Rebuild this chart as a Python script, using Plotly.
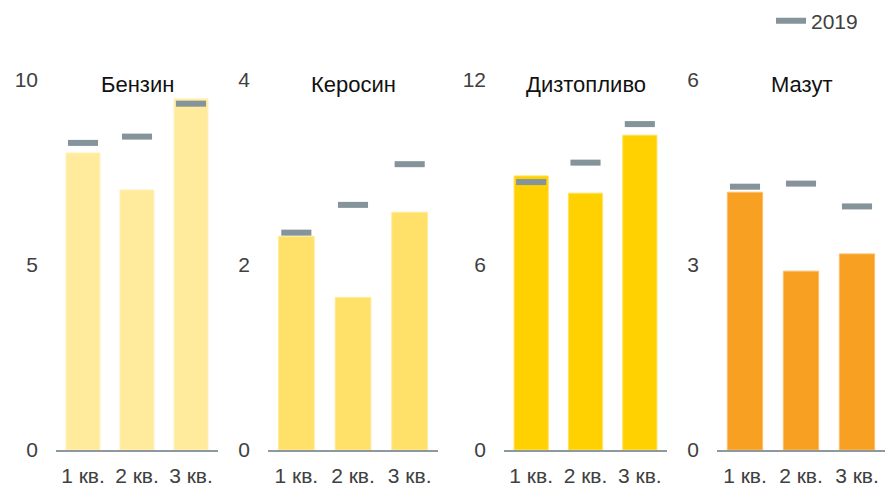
import plotly.graph_objects as go

# Quarterly data per fuel type (current year bars, 2019 reference dashes)
quarters = ["1 кв.", "2 кв.", "3 кв."]
fuels = ["Бензин", "Керосин", "Дизтопливо", "Мазут"]

benzin = [8.03, 7.03, 9.49]
kerosin = [2.31, 1.65, 2.57]
diesel = [8.89, 8.33, 10.21]
mazut = [4.18, 2.90, 3.18]

benzin_2019 = [8.30, 8.47, 9.36]
kerosin_2019 = [2.35, 2.65, 3.09]
diesel_2019 = [8.69, 9.32, 10.57]
mazut_2019 = [4.27, 4.32, 3.95]

axis_max = [10, 4, 12, 6]
axis_ticks = [[0, 5, 10], [0, 2, 4], [0, 6, 12], [0, 3, 6]]

current = [benzin, kerosin, diesel, mazut]
previous = [benzin_2019, kerosin_2019, diesel_2019, mazut_2019]

bar_colors = ["#FFEB9B", "#FFE16A", "#FFD100", "#F8A021"]
bar_edges = ["#FFF2C0", "#FFEA99", "#FFE266", "#FBBE6A"]
dash_color = "#85939A"
axis_color = "#8D989F"
text_color = "#404040"
FONT = "Liberation Sans, Arial, sans-serif"

W, H = 885, 487
x_domains_px = [(56, 218), (268, 438), (504, 667), (717, 885)]
y_domain = [37 / H, 407 / H]

fig = go.Figure()
layout = {}

for i in range(4):
    n = "" if i == 0 else str(i + 1)
    xa, ya = "x" + n, "y" + n
    fig.add_trace(go.Bar(
        x=quarters, y=current[i], xaxis=xa, yaxis=ya,
        marker=dict(color=bar_colors[i], line=dict(color=bar_edges[i], width=1)),
        width=0.63, showlegend=False, hoverinfo="x+y",
    ))
    fig.add_trace(go.Scatter(
        x=quarters, y=previous[i], xaxis=xa, yaxis=ya, mode="markers",
        marker=dict(symbol="line-ew", size=21.5, color=dash_color,
                    line=dict(color=dash_color, width=6)),
        showlegend=False, hoverinfo="x+y", cliponaxis=False,
    ))
    x0, x1 = x_domains_px[i]
    layout["xaxis" + n] = dict(
        domain=[x0 / W, min(x1 / W, 1.0)], anchor=ya, type="category",
        range=[-0.5, 2.5], showline=True, linecolor=axis_color, linewidth=1.5,
        showgrid=False, zeroline=False, ticks="", ticklabelstandoff=6,
        tickfont=dict(family=FONT, size=21, color=text_color),
    )
    layout["yaxis" + n] = dict(
        domain=y_domain, anchor=xa, range=[0, axis_max[i]],
        tickvals=axis_ticks[i], showgrid=False, zeroline=False, showline=False,
        ticks="", ticklabelstandoff=17,
        tickfont=dict(family=FONT, size=21, color=text_color),
    )
    fig.add_annotation(
        text=fuels[i], xref="paper", yref="paper",
        x=(x0 + min(x1, W)) / 2 / W, y=(H - 85) / H,
        xanchor="center", yanchor="middle", showarrow=False,
        font=dict(family=FONT, size=22, color="#111111"),
    )

# Legend entry for the 2019 dashes
fig.add_trace(go.Scatter(
    x=[None], y=[None], mode="lines", name="2019",
    line=dict(color=dash_color, width=6), showlegend=True,
))

fig.update_layout(
    width=W, height=H,
    margin=dict(l=0, r=0, t=0, b=0, autoexpand=False),
    paper_bgcolor="white", plot_bgcolor="white",
    font=dict(family=FONT, size=21, color=text_color),
    showlegend=True,
    legend=dict(x=771 / W, y=(H - 21) / H, xanchor="left", yanchor="middle",
                font=dict(family=FONT, size=21, color=text_color),
                bgcolor="rgba(0,0,0,0)", borderwidth=0),
    **layout,
)

fig.write_html("out.html")
